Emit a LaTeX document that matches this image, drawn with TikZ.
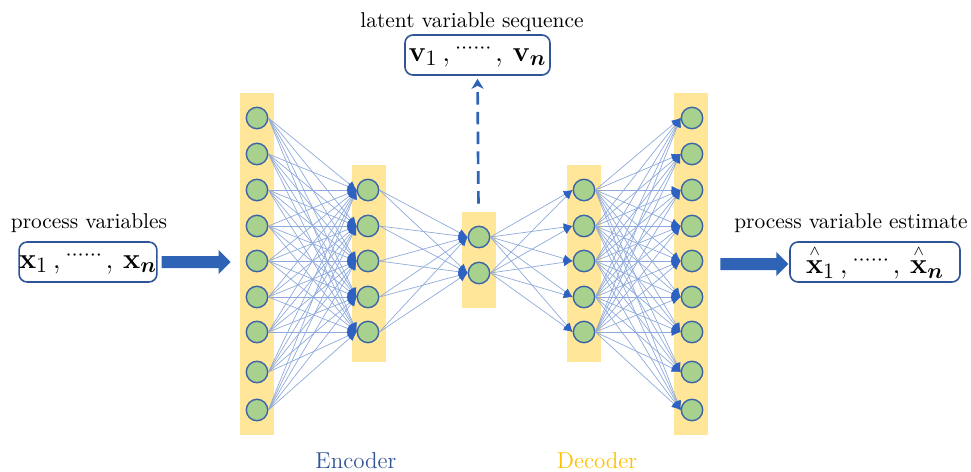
\documentclass[tikz,border=0pt]{standalone}
\usepackage{amsmath}
\usepackage{bm}
\usetikzlibrary{arrows.meta}
\definecolor{barfill}{HTML}{FFE699}
\definecolor{neuronfill}{HTML}{A9D18E}
\definecolor{neuronline}{HTML}{3B64A6}
\definecolor{linkblue}{HTML}{8FAADC}
\definecolor{tipblue}{HTML}{2E62C2}
\definecolor{arrowblue}{HTML}{2E63B6}
\definecolor{boxblue}{HTML}{2F5597}
\definecolor{decoderorange}{HTML}{FFC000}
\newcommand{\labelfont}{\fontsize{10.7}{13}\selectfont}
\newcommand{\boxfont}{\fontsize{15}{18}\selectfont}
\newcommand{\partfont}{\fontsize{11.5}{14}\selectfont}
\tikzstyle{neuron} = [circle,draw=neuronline,fill=neuronfill,line width=0.7pt,
    minimum size=10.7pt,inner sep=0pt]
\tikzstyle{layerbar} = [rectangle,fill=barfill,inner sep=0pt,minimum width=17pt]
\tikzstyle{link} = [draw=linkblue,line width=0.35pt,
    -{Latex[length=4.5pt,width=4pt,color=tipblue]}]
\tikzstyle{varbox} = [draw=boxblue,line width=0.8pt,rounded corners=4pt,
    minimum height=20pt,inner sep=0pt,font=\boxfont]
\tikzstyle{caption} = [font=\labelfont]
\tikzstyle{blockarrow} = [fill=arrowblue]
\tikzstyle{latentarrow} = [draw=arrowblue,line width=1.35pt,
    dash pattern=on 6.3pt off 3.6pt,-{Stealth[length=5pt,width=6pt,inset=1.5pt]}]
\newcommand{\nnlayer}[3]{
    \foreach \y [count=\i] in {#3} {
        \node(#1-\i) at (#2,\y) [neuron] {};
    }
}
\newcommand{\nnlinks}[4]{
    \foreach \i in {1,...,#2} {
        \foreach \j in {1,...,#4} {
            \draw[link] (#1-\i.east) -- (#3-\j.west);
        }
    }
}
% block arrow, starting #2 px right of anchor #1, body #3 px long
\newcommand{\blockarrow}[3]{
    \fill[blockarrow] (#1) ++(#2,-6) -- ++(#3,0) -- ++(0,-6) -- ++(12,12)
        -- ++(-12,12) -- ++(0,-6) -- ++(-#3,0) -- cycle;
}
\newcommand{\dotrun}{\raisebox{4pt}{$\scriptstyle\cdots\cdots$}}
\newcommand{\varseq}[2]{$#1_1\,,\dotrun,\,#2_{\bm{n}}$}
\begin{document}
\begin{tikzpicture}[x=0.5pt,y=-0.5pt]
    \useasboundingbox (0,0) rectangle (971,472);

    % layer backgrounds
    \node(bar1) at (257,264) [layerbar, minimum height=171pt] {};
    \node(bar2) at (368.5,263.5) [layerbar, minimum height=98.5pt] {};
    \node(bar3) at (478.5,260) [layerbar, minimum height=48pt] {};
    \node(bar4) at (584,263.5) [layerbar, minimum height=98.5pt] {};
    \node(bar5) at (691,264) [layerbar, minimum height=171pt] {};

    % neurons
    \nnlayer{in}{257}{118,154,190,226,261,297,332,372,410};
    \nnlayer{enc}{368}{190,226,261,297,332};
    \nnlayer{code}{479}{237,273};
    \nnlayer{dec}{584}{190,226,261,297,332};
    \nnlayer{out}{692}{118,154,190,226,261,297,332,372,410};

    % connections
    \nnlinks{in}{9}{enc}{5};
    \nnlinks{enc}{5}{code}{2};
    \nnlinks{code}{2}{dec}{5};
    \nnlinks{dec}{5}{out}{9};

    % inputs and outputs
    \node(inbox) at (88,262) [varbox, minimum width=65.5pt] {\varseq{\mathbf{x}}{\mathbf{x}}};
    \node(inlabel) at (89,223) [caption] {process variables};
    \blockarrow{inbox.east}{4}{57};

    \node(latentbox) at (477.5,55) [varbox, minimum width=72.5pt] {\varseq{\mathbf{v}}{\mathbf{v}}};
    \node(latentlabel) at (472,22) [caption] {latent variable sequence};
    \draw[latentarrow, shorten <=4pt, shorten >=1.5pt] (bar3.north) -- (latentbox.south);

    \node(outbox) at (875,262) [varbox, minimum width=85pt]
        {\varseq{\overset{\scriptscriptstyle\wedge}{\mathbf{x}}}{\overset{\scriptscriptstyle\wedge}{\mathbf{x}}}};
    \node(outlabel) at (851,223) [caption] {process variable estimate};
    \blockarrow{bar5.east}{12}{56};

    % parts
    \node(encoder) at (356,461) [font=\partfont, text=boxblue] {Encoder};
    \node(decoder) at (597,461) [font=\partfont, text=decoderorange] {Decoder};
\end{tikzpicture}
\end{document}
